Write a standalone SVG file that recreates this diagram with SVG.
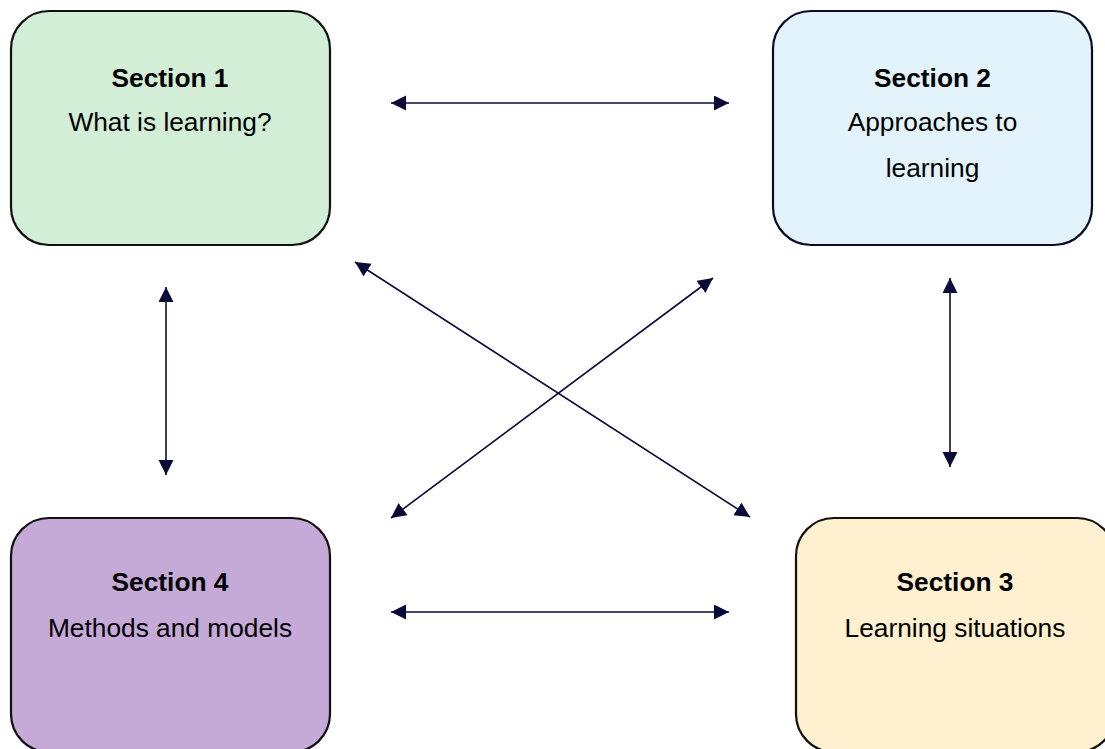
<svg xmlns="http://www.w3.org/2000/svg" width="1105" height="749" viewBox="0 0 1105 749">
  <style>
    .box { stroke: #111111; stroke-width: 2.2; }
    .title { font-family: "Liberation Sans", Arial, sans-serif; font-size: 26.3px; font-weight: bold; fill: #000000; text-anchor: middle; }
    .body { font-family: "Liberation Sans", Arial, sans-serif; font-size: 26.3px; fill: #000000; text-anchor: middle; }
    .link { stroke: #0b0b3a; stroke-width: 1.6; fill: none; marker-start: url(#head); marker-end: url(#head); }
  </style>
  <defs>
    <marker id="head" markerUnits="userSpaceOnUse" markerWidth="17" markerHeight="16" refX="15" refY="7.5" orient="auto-start-reverse">
      <path d="M0,0 L15,7.5 L0,15 Z" fill="#0b0b3a"/>
    </marker>
  </defs>
  <rect width="1105" height="749" fill="#ffffff"/>

  <!-- connectors -->
  <g id="connectors">
    <line class="link" x1="391" y1="103" x2="729" y2="103"/>
    <line class="link" x1="391" y1="612" x2="729" y2="612"/>
    <line class="link" x1="166" y1="287" x2="166" y2="475"/>
    <line class="link" x1="950" y1="278" x2="950" y2="467"/>
    <line class="link" x1="355" y1="262" x2="750" y2="517"/>
    <line class="link" x1="391" y1="518" x2="713" y2="278"/>
  </g>

  <g id="section1">
    <rect class="box" x="11" y="11" width="319" height="234" rx="38" fill="#d3eed6"/>
    <text class="title" x="170" y="87">Section 1</text>
    <text class="body" x="170" y="131">What is learning?</text>
  </g>

  <g id="section2">
    <rect class="box" x="773" y="11" width="319" height="234" rx="38" fill="#e2f3fb" style="stroke:#0b0b2a"/>
    <text class="title" x="932.5" y="87">Section 2</text>
    <text class="body" x="932.5" y="131">Approaches to</text>
    <text class="body" x="932.5" y="177">learning</text>
  </g>

  <g id="section3">
    <rect class="box" x="796" y="518" width="319" height="234" rx="38" fill="#fff1cf"/>
    <text class="title" x="955" y="591">Section 3</text>
    <text class="body" x="955" y="637">Learning situations</text>
  </g>

  <g id="section4">
    <rect class="box" x="11" y="518" width="319" height="234" rx="38" fill="#c5aad8"/>
    <text class="title" x="170" y="591">Section 4</text>
    <text class="body" x="170" y="637">Methods and models</text>
  </g>
</svg>
